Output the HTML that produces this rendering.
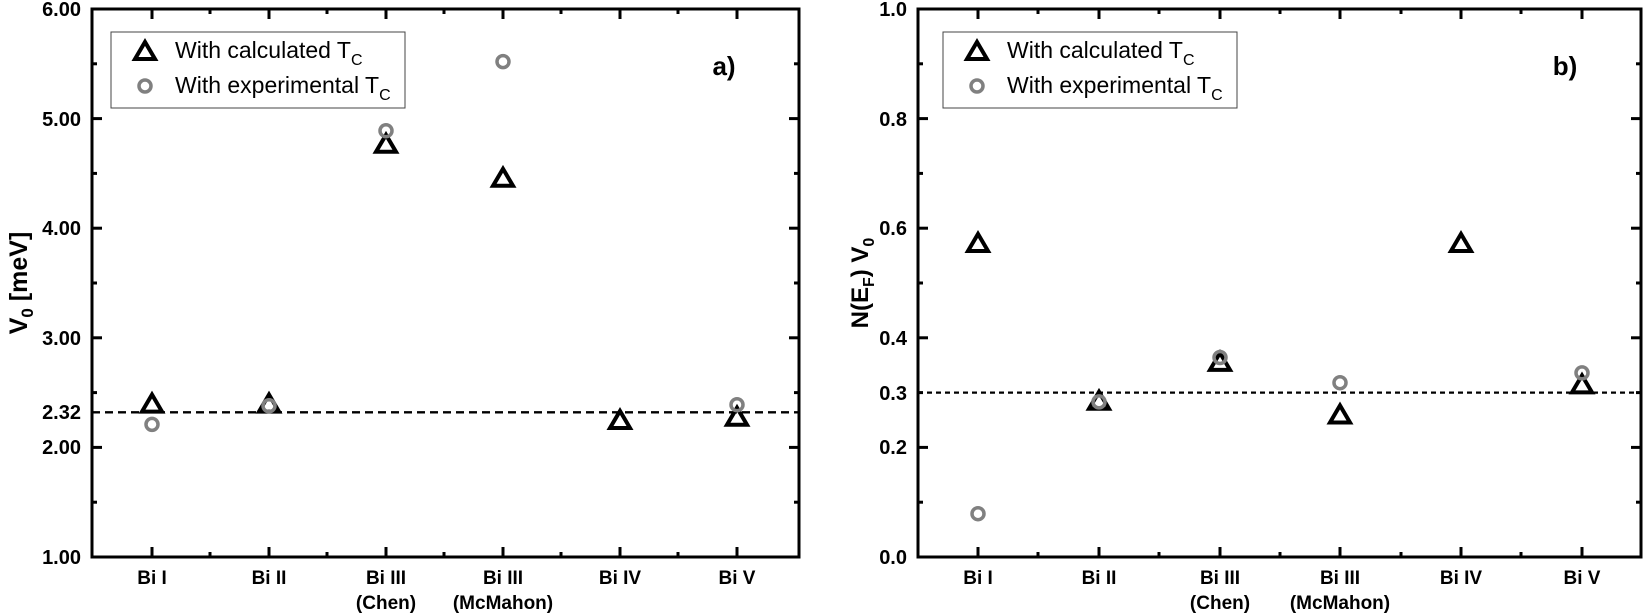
<!DOCTYPE html>
<html><head><meta charset="utf-8"><style>
html,body{margin:0;padding:0;background:#fff}
svg{display:block}
text{font-family:"Liberation Sans",Arial,sans-serif}
.tl{font-size:20px;font-weight:bold;text-anchor:end}
.cl{font-size:19px;font-weight:bold;text-anchor:middle}
.lg{font-size:23px}
</style></head><body>
<svg width="1645" height="615" viewBox="0 0 1645 615" xmlns="http://www.w3.org/2000/svg">
<defs>
<path id="tri" d="M-10,8 L10,8 L0,-9 Z" fill="none" stroke="#000" stroke-width="4" stroke-linejoin="miter"/>
<circle id="cir" r="6" fill="none" stroke="#808080" stroke-width="3.5"/>
</defs>

<!-- LEFT PANEL -->
<rect x="92" y="9" width="707" height="548" fill="none" stroke="#000" stroke-width="3"/>
<g stroke="#000" stroke-width="3">
<line x1="92" y1="557" x2="102" y2="557"/><line x1="92" y1="447.4" x2="102" y2="447.4"/><line x1="92" y1="337.8" x2="102" y2="337.8"/><line x1="92" y1="228.2" x2="102" y2="228.2"/><line x1="92" y1="118.6" x2="102" y2="118.6"/>
<line x1="92" y1="502.2" x2="97" y2="502.2"/><line x1="92" y1="392.6" x2="97" y2="392.6"/><line x1="92" y1="283" x2="97" y2="283"/><line x1="92" y1="173.4" x2="97" y2="173.4"/><line x1="92" y1="63.8" x2="97" y2="63.8"/>
<line x1="799" y1="447.4" x2="789" y2="447.4"/><line x1="799" y1="337.8" x2="789" y2="337.8"/><line x1="799" y1="228.2" x2="789" y2="228.2"/><line x1="799" y1="118.6" x2="789" y2="118.6"/>
<line x1="799" y1="502.2" x2="794" y2="502.2"/><line x1="799" y1="392.6" x2="794" y2="392.6"/><line x1="799" y1="283" x2="794" y2="283"/><line x1="799" y1="173.4" x2="794" y2="173.4"/><line x1="799" y1="63.8" x2="794" y2="63.8"/>
<line x1="152" y1="557" x2="152" y2="547"/><line x1="269" y1="557" x2="269" y2="547"/><line x1="386" y1="557" x2="386" y2="547"/><line x1="503" y1="557" x2="503" y2="547"/><line x1="620" y1="557" x2="620" y2="547"/><line x1="737" y1="557" x2="737" y2="547"/>
<line x1="210" y1="557" x2="210" y2="552"/><line x1="327" y1="557" x2="327" y2="552"/><line x1="444" y1="557" x2="444" y2="552"/><line x1="561" y1="557" x2="561" y2="552"/><line x1="678" y1="557" x2="678" y2="552"/>
<line x1="152" y1="9" x2="152" y2="19"/><line x1="269" y1="9" x2="269" y2="19"/><line x1="386" y1="9" x2="386" y2="19"/><line x1="503" y1="9" x2="503" y2="19"/><line x1="620" y1="9" x2="620" y2="19"/><line x1="737" y1="9" x2="737" y2="19"/>
<line x1="210" y1="9" x2="210" y2="14"/><line x1="327" y1="9" x2="327" y2="14"/><line x1="444" y1="9" x2="444" y2="14"/><line x1="561" y1="9" x2="561" y2="14"/><line x1="678" y1="9" x2="678" y2="14"/>
</g>
<line x1="92" y1="412.3" x2="799" y2="412.3" stroke="#000" stroke-width="2.4" stroke-dasharray="8,5"/>
<text class="tl" x="81" y="564">1.00</text>
<text class="tl" x="81" y="454">2.00</text>
<text class="tl" x="81" y="419">2.32</text>
<text class="tl" x="81" y="345">3.00</text>
<text class="tl" x="81" y="235">4.00</text>
<text class="tl" x="81" y="126">5.00</text>
<text class="tl" x="81" y="16">6.00</text>
<text transform="translate(27,283) rotate(-90)" text-anchor="middle" font-size="25" font-weight="bold">V<tspan font-size="17" dy="6">0</tspan><tspan dy="-6"> [meV]</tspan></text>
<text class="cl" x="152" y="584">Bi I</text>
<text class="cl" x="269" y="584">Bi II</text>
<text class="cl" x="386" y="584">Bi III</text><text class="cl" x="386" y="609">(Chen)</text>
<text class="cl" x="503" y="584">Bi III</text><text class="cl" x="503" y="609">(McMahon)</text>
<text class="cl" x="620" y="584">Bi IV</text>
<text class="cl" x="737" y="584">Bi V</text>
<text x="724" y="75" font-size="26" font-weight="bold" text-anchor="middle">a)</text>
<rect x="111" y="32" width="294" height="76" fill="#fff" stroke="#444" stroke-width="1"/>
<use href="#tri" x="145" y="51"/>
<use href="#cir" x="145" y="86"/>
<text class="lg" x="175" y="58">With calculated T<tspan font-size="16" dy="7">C</tspan></text>
<text class="lg" x="175" y="93">With experimental T<tspan font-size="16" dy="7">C</tspan></text>
<use href="#tri" x="152" y="403.6"/><use href="#cir" x="152" y="424.4"/>
<use href="#tri" x="269" y="403.6"/><use href="#cir" x="269" y="405.8"/>
<use href="#tri" x="386" y="143.8"/><use href="#cir" x="386" y="130.7"/>
<use href="#tri" x="503" y="177.8"/><use href="#cir" x="503" y="61.6"/>
<use href="#tri" x="620" y="420"/>
<use href="#tri" x="737" y="416.7"/><use href="#cir" x="737" y="404.7"/>

<!-- RIGHT PANEL -->
<rect x="918" y="9" width="723" height="548" fill="none" stroke="#000" stroke-width="3"/>
<g stroke="#000" stroke-width="3">
<line x1="918" y1="447.4" x2="928" y2="447.4"/><line x1="918" y1="337.8" x2="928" y2="337.8"/><line x1="918" y1="228.2" x2="928" y2="228.2"/><line x1="918" y1="118.6" x2="928" y2="118.6"/>
<line x1="918" y1="502.2" x2="923" y2="502.2"/><line x1="918" y1="392.6" x2="923" y2="392.6"/><line x1="918" y1="283" x2="923" y2="283"/><line x1="918" y1="173.4" x2="923" y2="173.4"/><line x1="918" y1="63.8" x2="923" y2="63.8"/>
<line x1="1641" y1="447.4" x2="1631" y2="447.4"/><line x1="1641" y1="337.8" x2="1631" y2="337.8"/><line x1="1641" y1="228.2" x2="1631" y2="228.2"/><line x1="1641" y1="118.6" x2="1631" y2="118.6"/>
<line x1="1641" y1="502.2" x2="1636" y2="502.2"/><line x1="1641" y1="392.6" x2="1636" y2="392.6"/><line x1="1641" y1="283" x2="1636" y2="283"/><line x1="1641" y1="173.4" x2="1636" y2="173.4"/><line x1="1641" y1="63.8" x2="1636" y2="63.8"/>
<line x1="978" y1="557" x2="978" y2="547"/><line x1="1099" y1="557" x2="1099" y2="547"/><line x1="1220" y1="557" x2="1220" y2="547"/><line x1="1340" y1="557" x2="1340" y2="547"/><line x1="1461" y1="557" x2="1461" y2="547"/><line x1="1582" y1="557" x2="1582" y2="547"/>
<line x1="1038" y1="557" x2="1038" y2="552"/><line x1="1159" y1="557" x2="1159" y2="552"/><line x1="1280" y1="557" x2="1280" y2="552"/><line x1="1401" y1="557" x2="1401" y2="552"/><line x1="1521" y1="557" x2="1521" y2="552"/>
<line x1="978" y1="9" x2="978" y2="19"/><line x1="1099" y1="9" x2="1099" y2="19"/><line x1="1220" y1="9" x2="1220" y2="19"/><line x1="1340" y1="9" x2="1340" y2="19"/><line x1="1461" y1="9" x2="1461" y2="19"/><line x1="1582" y1="9" x2="1582" y2="19"/>
<line x1="1038" y1="9" x2="1038" y2="14"/><line x1="1159" y1="9" x2="1159" y2="14"/><line x1="1280" y1="9" x2="1280" y2="14"/><line x1="1401" y1="9" x2="1401" y2="14"/><line x1="1521" y1="9" x2="1521" y2="14"/>
</g>
<line x1="918" y1="392.6" x2="1641" y2="392.6" stroke="#000" stroke-width="2.2" stroke-dasharray="5,4"/>
<text class="tl" x="907" y="564">0.0</text>
<text class="tl" x="907" y="454">0.2</text>
<text class="tl" x="907" y="400">0.3</text>
<text class="tl" x="907" y="345">0.4</text>
<text class="tl" x="907" y="235">0.6</text>
<text class="tl" x="907" y="126">0.8</text>
<text class="tl" x="907" y="16">1.0</text>
<text transform="translate(868,283) rotate(-90)" text-anchor="middle" font-size="24" font-weight="bold">N(E<tspan font-size="16" dy="6">F</tspan><tspan dy="-6">) V</tspan><tspan font-size="16" dy="6">0</tspan></text>
<text class="cl" x="978" y="584">Bi I</text>
<text class="cl" x="1099" y="584">Bi II</text>
<text class="cl" x="1220" y="584">Bi III</text><text class="cl" x="1220" y="609">(Chen)</text>
<text class="cl" x="1340" y="584">Bi III</text><text class="cl" x="1340" y="609">(McMahon)</text>
<text class="cl" x="1461" y="584">Bi IV</text>
<text class="cl" x="1582" y="584">Bi V</text>
<text x="1565" y="75" font-size="26" font-weight="bold" text-anchor="middle">b)</text>
<rect x="943" y="32" width="294" height="76" fill="#fff" stroke="#444" stroke-width="1"/>
<use href="#tri" x="977" y="51"/>
<use href="#cir" x="977" y="86"/>
<text class="lg" x="1007" y="58">With calculated T<tspan font-size="16" dy="7">C</tspan></text>
<text class="lg" x="1007" y="93">With experimental T<tspan font-size="16" dy="7">C</tspan></text>
<use href="#tri" x="978" y="243"/><use href="#cir" x="978" y="513.7"/>
<use href="#tri" x="1099" y="400.8"/><use href="#cir" x="1099" y="401.9"/>
<use href="#tri" x="1220" y="361.9"/><use href="#cir" x="1220" y="357.5"/>
<use href="#tri" x="1340" y="414.5"/><use href="#cir" x="1340" y="382.7"/>
<use href="#tri" x="1461" y="243"/>
<use href="#tri" x="1582" y="384.4"/><use href="#cir" x="1582" y="372.9"/>
</svg>
</body></html>
